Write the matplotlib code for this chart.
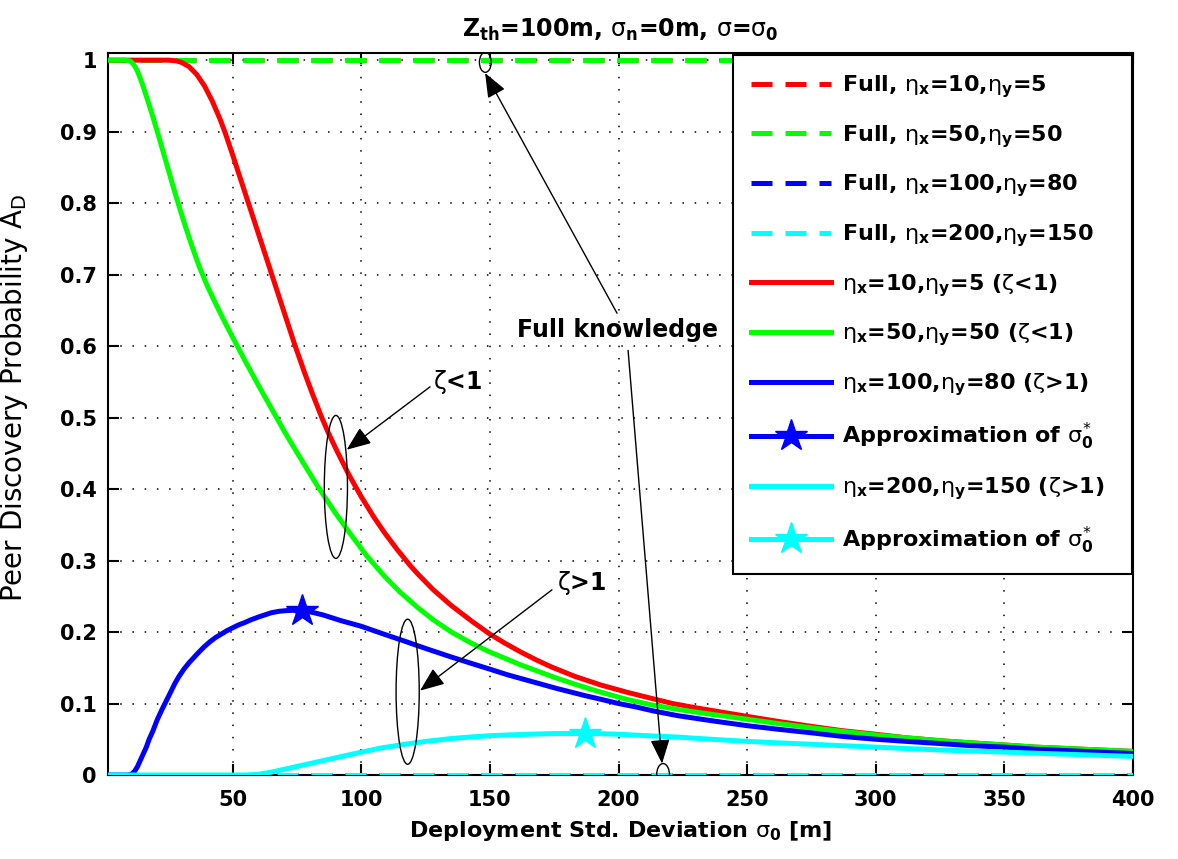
import numpy as np
import matplotlib
matplotlib.use('Agg')
import matplotlib.pyplot as plt
from matplotlib.patches import Ellipse

plt.rcParams['font.family'] = 'DejaVu Sans'
plt.rcParams['mathtext.fontset'] = 'custom'
plt.rcParams['mathtext.rm'] = 'DejaVu Sans'
plt.rcParams['mathtext.it'] = 'DejaVu Sans'
plt.rcParams['mathtext.bf'] = 'DejaVu Sans:bold'

# eta_x=10, eta_y=5 (zeta<1)
x_red = [1, 20, 25, 28, 30, 33, 36, 39, 42, 45, 47, 50, 53, 56, 60, 65, 70, 74, 78, 81,
         84.5, 87, 90, 95, 100, 105, 109, 114, 119, 122, 128, 135, 143, 150, 156, 162,
         168, 174, 183, 193, 203, 213, 221, 230, 240, 250, 262, 275, 287, 300, 312, 325,
         337, 350, 362, 375, 387, 400]
y_red = [1, 1, 1.0, 0.999, 0.997, 0.991, 0.980, 0.964, 0.943, 0.918, 0.899, 0.867, 0.834,
         0.801, 0.757, 0.702, 0.647, 0.603, 0.562, 0.533, 0.501, 0.480, 0.457, 0.421,
         0.389, 0.360, 0.339, 0.315, 0.293, 0.281, 0.259, 0.237, 0.215, 0.197, 0.184,
         0.172, 0.161, 0.151, 0.138, 0.126, 0.116, 0.107, 0.100, 0.094, 0.088, 0.082,
         0.075, 0.068, 0.062, 0.057, 0.052, 0.048, 0.045, 0.042, 0.039, 0.037, 0.035,
         0.033]

# eta_x=50, eta_y=50 (zeta<1)
x_green = [1, 8, 10, 11, 12, 13, 14, 15, 17, 19, 21, 23, 25, 27, 29, 31, 33, 35, 37, 40,
           43, 46, 50, 55, 60, 65, 70, 76, 83, 90, 96, 102, 109, 115, 122, 128, 135, 143,
           150, 162, 174, 183, 193, 203, 213, 221, 230, 240, 250, 262, 275, 287, 300,
           312, 325, 337, 350, 362, 375, 387, 400]
y_green = [1, 1, 0.999, 0.996, 0.991, 0.984, 0.975, 0.965, 0.943, 0.920, 0.896, 0.871,
           0.846, 0.821, 0.797, 0.774, 0.752, 0.731, 0.711, 0.685, 0.662, 0.640, 0.612,
           0.578, 0.545, 0.513, 0.481, 0.445, 0.404, 0.366, 0.336, 0.307, 0.278, 0.256,
           0.234, 0.217, 0.200, 0.184, 0.172, 0.154, 0.138, 0.127, 0.116, 0.106, 0.098,
           0.093, 0.088, 0.083, 0.078, 0.072, 0.066, 0.061, 0.056, 0.052, 0.048, 0.045,
           0.042, 0.039, 0.037, 0.035, 0.033]

# eta_x=100, eta_y=80 (zeta>1)
x_blue = [1, 9, 10, 11, 12, 13, 14.5, 16.4, 17.5, 19, 20.6, 22.4, 24.2, 26, 27.5, 29.1,
          31, 33, 34.8, 36.6, 38.8, 41, 43.2, 45.5, 47.8, 50, 52.3, 54.5, 57, 60, 62.5,
          65, 68, 71, 74, 77, 81, 85, 88.5, 92, 96, 100, 108, 117, 125, 135, 142, 150,
          157, 165, 176, 187, 193, 200, 207, 213, 223, 236, 250, 262, 275, 287, 300,
          312, 325, 337, 350, 362, 375, 387, 400]
y_blue = [0, 0, 0.0005, 0.002, 0.006, 0.012, 0.024, 0.039, 0.050, 0.062, 0.077, 0.091,
          0.104, 0.117, 0.128, 0.138, 0.148, 0.157, 0.164, 0.171, 0.179, 0.186, 0.192,
          0.197, 0.202, 0.206, 0.210, 0.213, 0.217, 0.221, 0.224, 0.227, 0.229, 0.23,
          0.2305, 0.23, 0.2275, 0.224, 0.220, 0.216, 0.212, 0.208, 0.198, 0.187, 0.177,
          0.165, 0.157, 0.148, 0.140, 0.132, 0.121, 0.111, 0.106, 0.100, 0.095, 0.090,
          0.083, 0.076, 0.069, 0.064, 0.059, 0.054, 0.050, 0.047, 0.044, 0.041, 0.039,
          0.036, 0.034, 0.032, 0.030]

# eta_x=200, eta_y=150 (zeta>1)
x_cyan = [1, 55, 60, 65, 70, 75, 80, 85, 90, 95, 100, 104, 108, 112.5, 117, 121, 125,
          130, 135, 142, 150, 157, 165, 175, 187, 193, 200, 211, 223, 236, 250, 262,
          275, 287, 300, 312, 325, 337, 350, 362, 375, 387, 400]
y_cyan = [0, 0, 0.001, 0.004, 0.008, 0.012, 0.016, 0.020, 0.024, 0.028, 0.032, 0.035,
          0.038, 0.0405, 0.043, 0.045, 0.047, 0.049, 0.051, 0.053, 0.055, 0.056, 0.057,
          0.058, 0.058, 0.0578, 0.057, 0.055, 0.053, 0.050, 0.047, 0.045, 0.043, 0.041,
          0.039, 0.037, 0.035, 0.0335, 0.032, 0.0305, 0.029, 0.0275, 0.026]

# full knowledge results (constant over sigma_0)
x_full = [1, 400]
full_red = [1, 1]
full_green = [1, 1]
full_blue = [0, 0]
full_cyan = [0, 0]

# approximation of the optimal sigma_0
star_blue = (77, 0.23)
star_cyan = (187, 0.058)

labels = [r'Full, $\eta_\mathbf{x}$=10,$\eta_\mathbf{y}$=5',
          r'Full, $\eta_\mathbf{x}$=50,$\eta_\mathbf{y}$=50',
          r'Full, $\eta_\mathbf{x}$=100,$\eta_\mathbf{y}$=80',
          r'Full, $\eta_\mathbf{x}$=200,$\eta_\mathbf{y}$=150',
          r'$\eta_\mathbf{x}$=10,$\eta_\mathbf{y}$=5 ($\zeta$<1)',
          r'$\eta_\mathbf{x}$=50,$\eta_\mathbf{y}$=50 ($\zeta$<1)',
          r'$\eta_\mathbf{x}$=100,$\eta_\mathbf{y}$=80 ($\zeta$>1)',
          r'Approximation of $\sigma^{*}_\mathbf{0}$',
          r'$\eta_\mathbf{x}$=200,$\eta_\mathbf{y}$=150 ($\zeta$>1)',
          r'Approximation of $\sigma^{*}_\mathbf{0}$']

red = '#ff0000'
green = '#00ff00'
blue = '#0000ff'
cyan = '#00ffff'
lw = 3.6
dash = (4.2, 2.6)

fig = plt.figure(figsize=(11.78, 8.59), dpi=100)
ax = fig.add_axes([108 / 1178, 1 - 775 / 859, 1025 / 1178, 722 / 859])

ax.plot(x_full, full_red, '--', color=red, lw=lw, dashes=dash, label=labels[0], zorder=3)
ax.plot(x_full, full_green, '--', color=green, lw=lw, dashes=dash, label=labels[1], zorder=3)
ax.plot(x_full, full_blue, '--', color=blue, lw=lw, dashes=dash, label=labels[2], zorder=3)
ax.plot(x_full, full_cyan, '--', color=cyan, lw=lw, dashes=dash, label=labels[3], zorder=3)
ax.plot(x_red, y_red, '-', color=red, lw=lw, label=labels[4], zorder=3)
ax.plot(x_green, y_green, '-', color=green, lw=lw, label=labels[5], zorder=3)
ax.plot(x_blue, y_blue, '-', color=blue, lw=lw, label=labels[6], zorder=3)
ax.plot([star_blue[0]], [star_blue[1]], '-*', color=blue, lw=lw, ms=24,
        label=labels[7], zorder=4)
ax.plot(x_cyan, y_cyan, '-', color=cyan, lw=lw, label=labels[8], zorder=3)
ax.plot([star_cyan[0]], [star_cyan[1]], '-*', color=cyan, lw=lw, ms=24,
        label=labels[9], zorder=4)

ax.set_xlim(1.5, 400)
ax.set_ylim(0, 1.01)
ax.set_xticks([50, 100, 150, 200, 250, 300, 350, 400])
ax.set_yticks(np.arange(0, 11) / 10)
ax.set_yticklabels(['0', '0.1', '0.2', '0.3', '0.4', '0.5', '0.6', '0.7', '0.8', '0.9', '1'])
ax.grid(True, color='k', linestyle=(0, (1, 7)), lw=1.1)
ax.tick_params(direction='in', length=8, width=1.5, top=True, right=True,
               labelsize=15)
ax.tick_params(axis='x', pad=11)
ax.tick_params(axis='y', pad=8)
for lab in ax.get_xticklabels() + ax.get_yticklabels():
    lab.set_fontweight('bold')
for sp in ax.spines.values():
    sp.set_linewidth(1.5)

ax.set_title(r'Z$_\mathbf{th}$=100m, $\sigma_\mathbf{n}$=0m, $\sigma$=$\sigma_\mathbf{0}$',
             fontsize=17, fontweight='bold', pad=12)
ax.set_xlabel(r'Deployment Std. Deviation $\sigma_\mathbf{0}$ [m]', fontsize=16,
              fontweight='bold', labelpad=6)
ax.set_ylabel(r'Peer Discovery Probability A$_\mathrm{D}$', fontsize=20)
ax.yaxis.set_label_coords(-0.076, 0.523)

# legend box spans a fixed width at the upper right of the axes
leg_left = (733 - 108) / 1025
leg_top = (775 - 55) / 722
leg = ax.legend(loc='upper left', bbox_to_anchor=(leg_left, leg_top - 0.7, 0.999 - leg_left, 0.7),
                mode='expand', borderaxespad=0, handlelength=3.6, handletextpad=0.5,
                labelspacing=1.03, borderpad=0.82, fancybox=False, framealpha=1,
                edgecolor='k', prop={'weight': 'bold', 'size': 16})
leg.get_frame().set_linewidth(1.5)
leg.set_zorder(10)

# ellipses grouping the curves
for cx, cy, w, h in [(148.2, 0.997, 4.6, 0.028), (217.3, 0.0, 5.0, 0.032),
                     (90.1, 0.403, 9.0, 0.2), (118.0, 0.1165, 9.0, 0.203)]:
    ax.add_patch(Ellipse((cx, cy), w, h, fill=False, ec='k', lw=1.0, zorder=5))

arrow = dict(arrowstyle='-|>,head_length=0.75,head_width=0.3', color='k', lw=1.0,
             mutation_scale=20, shrinkA=0, shrinkB=0)
ax.text(199.4, 0.6225, 'Full knowledge', fontsize=17, fontweight='bold',
        ha='center', va='center', zorder=6)
ax.annotate('', xy=(148.1, 0.982), xytext=(199.4, 0.646), arrowprops=arrow)
ax.annotate('', xy=(216.9, 0.016), xytext=(203.7, 0.594), arrowprops=arrow)
ax.text(128.0, 0.55, r'$\zeta$<1', fontsize=17, fontweight='bold', ha='left', va='center')
ax.annotate('', xy=(94.3, 0.455), xytext=(126.7, 0.543), arrowprops=arrow)
ax.text(176.1, 0.268, r'$\zeta$>1', fontsize=17, fontweight='bold', ha='left', va='center')
ax.annotate('', xy=(122.8, 0.118), xytext=(174.1, 0.259), arrowprops=arrow)

fig.savefig('out.png', dpi=100)
